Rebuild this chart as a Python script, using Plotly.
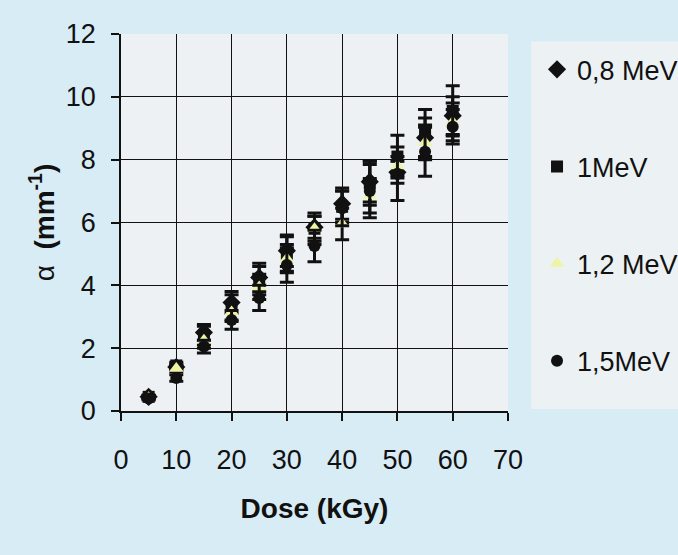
import plotly.graph_objects as go

dose = [5, 10, 15, 20, 25, 30, 35, 40, 45, 50, 55, 60]

series_names = ["0,8 MeV", "1MeV", "1,2 MeV", "1,5MeV"]

alpha_08 = [0.45, 1.40, 2.50, 3.45, 4.25, 5.10, 5.85, 6.60, 7.30, 7.60, 8.70, 9.40]
alpha_10 = [0.45, 1.45, 2.40, 3.30, 4.15, 5.00, 5.80, 6.50, 7.25, 8.10, 8.85, 9.55]
alpha_12 = [0.42, 1.35, 2.25, 3.15, 3.95, 4.85, 5.80, 5.95, 6.85, 7.80, 8.55, 9.20]
alpha_15 = [0.40, 1.05, 2.05, 2.90, 3.60, 4.65, 5.25, 6.45, 7.00, 7.55, 8.25, 9.05]

err_08 = [0.05, 0.10, 0.25, 0.35, 0.45, 0.50, 0.35, 0.50, 0.65, 0.35, 0.63, 0.60]
err_10 = [0.05, 0.10, 0.30, 0.40, 0.45, 0.55, 0.50, 0.50, 0.70, 0.68, 0.75, 0.80]
err_12 = [0.05, 0.10, 0.25, 0.30, 0.40, 0.45, 0.40, 0.50, 0.55, 0.30, 0.55, 0.60]
err_15 = [0.05, 0.10, 0.20, 0.30, 0.40, 0.55, 0.50, 0.55, 0.85, 0.85, 0.78, 0.55]

x_ticks = [0, 10, 20, 30, 40, 50, 60, 70]
y_ticks = [0, 2, 4, 6, 8, 10, 12]

FONT = "Liberation Sans, Arial, sans-serif"
PAPER = "#d8ecf5"

styles = [
    dict(symbol="diamond", color="#111111", size=14),
    dict(symbol="square", color="#111111", size=12),
    dict(symbol="triangle-up", color="#eef3a6", size=13),
    dict(symbol="circle", color="#111111", size=12),
]

fig = go.Figure()
for name, ys, errs, st in zip(series_names,
                              [alpha_08, alpha_10, alpha_12, alpha_15],
                              [err_08, err_10, err_12, err_15],
                              styles):
    fig.add_trace(go.Scatter(
        x=dose, y=ys, mode="markers", name=name, legendgroup=name,
        marker=dict(symbol=st["symbol"], color=st["color"], size=st["size"],
                    line=dict(width=0)),
        error_y=dict(type="data", array=errs, visible=True,
                     color="#111111", thickness=3, width=7),
    ))

# light panel behind legend
fig.add_shape(type="rect", xref="paper", yref="paper",
              x0=1.06, x1=1.6, y0=0.005, y1=0.98,
              fillcolor="#ecf1f4", line=dict(width=0), layer="below")

fig.update_layout(
    width=678, height=555,
    margin=dict(l=121, r=170, t=34, b=144, autoexpand=False),
    paper_bgcolor=PAPER,
    plot_bgcolor="#eef1f3",
    font=dict(family=FONT, size=27, color="#111111"),
    showlegend=True,
    legend=dict(x=1.075, y=0.97, xanchor="left", yanchor="top",
                bgcolor="rgba(0,0,0,0)", tracegroupgap=59,
                font=dict(size=27, family=FONT)),
    xaxis=dict(
        range=[0, 70], tickvals=x_ticks, ticktext=[str(v) for v in x_ticks],
        showgrid=True, gridcolor="#111111", gridwidth=1,
        showline=True, linecolor="#111111", linewidth=1.5,
        ticks="outside", ticklen=8, tickcolor="#111111", tickwidth=1.5,
        ticklabelstandoff=16, zeroline=False, automargin=False,
        title=dict(text="<b>Dose (kGy)</b>", standoff=24,
                   font=dict(size=28, family=FONT)),
    ),
    yaxis=dict(
        range=[0, 12], tickvals=y_ticks, ticktext=[str(v) for v in y_ticks],
        showgrid=True, gridcolor="#111111", gridwidth=1,
        showline=True, linecolor="#111111", linewidth=1.5,
        ticks="outside", ticklen=8, tickcolor="#111111", tickwidth=1.5,
        ticklabelstandoff=10, zeroline=False, automargin=False,
        title=dict(text="α  <b>(mm<sup>-1</sup>)</b>", standoff=3,
                   font=dict(size=28, family=FONT)),
    ),
)

fig.write_html(
    "out.html",
    config={"displayModeBar": False},
    post_script="document.body.style.margin='0';"
                "document.body.style.background='" + PAPER + "';"
                "document.body.style.overflow='hidden';",
)
